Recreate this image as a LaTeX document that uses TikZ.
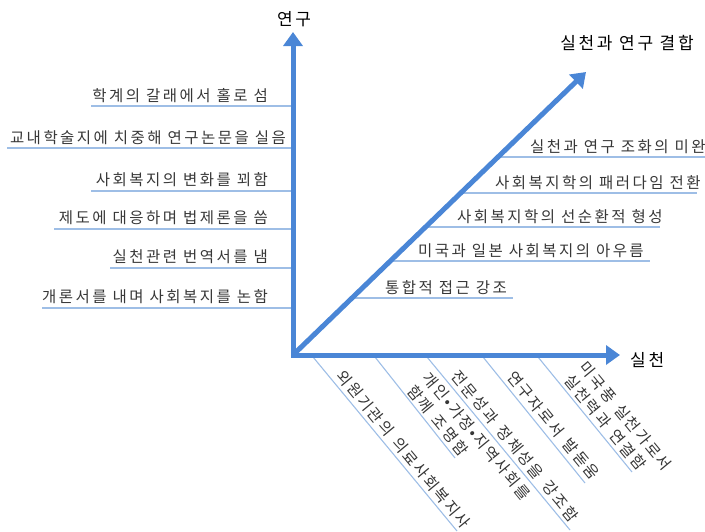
\documentclass[tikz,border=0pt]{standalone}
\usepackage{fontspec}
\setmainfont{Noto Sans CJK KR}
\newfontfamily\lblfont[LetterSpace=16]{Noto Sans CJK KR}
\newfontfamily\rotfont[LetterSpace=13,WordSpace=1.5]{Noto Sans CJK KR}
\usetikzlibrary{arrows.meta,calc}
\definecolor{axisblue}{RGB}{74,134,214}
\definecolor{thinblue}{RGB}{158,190,230}
\definecolor{lbltext}{RGB}{55,55,55}
\begin{document}
\begin{tikzpicture}[x=1pt,y=-1pt,
  axis/.style={draw=axisblue, line width=5pt, line join=miter},
  guide/.style={draw=thinblue, line width=1.1pt},
  lbl/.style={font=\lblfont\fontsize{15.5}{20}\selectfont, text=lbltext, inner sep=0pt},
  blbl/.style={font=\rotfont\fontsize{15.5}{20}\selectfont, text=lbltext, inner xsep=0pt, rotate=-50.5, anchor=south west, align=left, inner ysep=4pt},
  axlbl/.style={font=\lblfont\fontsize{17}{20}\selectfont, text=black, inner sep=0pt}]
\useasboundingbox (0,0) rectangle (705,531);
\tikzset{tip/.tip={Triangle[width=19pt,length=14pt]}}
% axes
\coordinate (O) at (293,355);
\coordinate (Ytip) at (293,32);
\coordinate (Xtip) at (620,355);
\coordinate (Dtip) at (586,72);
% left guides (research)
\coordinate (L1a) at (91,106);  \coordinate (L1b) at (293,106);
\coordinate (L2a) at (7,148);   \coordinate (L2b) at (293,148);
\coordinate (L3a) at (91,191);  \coordinate (L3b) at (293,191);
\coordinate (L4a) at (54,229);  \coordinate (L4b) at (293,229);
\coordinate (L5a) at (110,268); \coordinate (L5b) at (293,268);
\coordinate (L6a) at (42,308);  \coordinate (L6b) at (293,308);
\foreach \i in {1,...,6} {\draw[guide] (L\i a) -- (L\i b);}
\node[lbl, anchor=south east] (l1) at (268,103) {학계의 갈래에서 홀로 섬};
\node[lbl, anchor=south east] (l2) at (286,145) {교내학술지에 치중해 연구논문을 실음};
\node[lbl, anchor=south east] (l3) at (268,187) {사회복지의 변화를 꾀함};
\node[lbl, anchor=south east] (l4) at (268,225) {제도에 대응하며 법제론을 씀};
\node[lbl, anchor=south east] (l5) at (268,264) {실천관련 번역서를 냄};
\node[lbl, anchor=south east] (l6) at (268,304) {개론서를 내며 사회복지를 논함};
% right guides (combination)
\coordinate (R1a) at (498,157); \coordinate (R1b) at (705,157);
\coordinate (R2a) at (461,193); \coordinate (R2b) at (697,193);
\coordinate (R3a) at (425,227); \coordinate (R3b) at (660,227);
\coordinate (R4a) at (390,261); \coordinate (R4b) at (650,261);
\coordinate (R5a) at (352,298); \coordinate (R5b) at (513,298);
\foreach \i in {1,...,5} {\draw[guide] (R\i a) -- (R\i b);}
\node[lbl, anchor=south west] (r1) at (530,154) {실천과 연구 조화의 미완};
\node[lbl, anchor=south west] (r2) at (495,190) {사회복지학의 패러다임 전환};
\node[lbl, anchor=south west] (r3) at (457,224) {사회복지학의 선순환적 형성};
\node[lbl, anchor=south west] (r4) at (418,258) {미국과 일본 사회복지의 아우름};
\node[lbl, anchor=south west] (r5) at (385,295) {통합적 접근 강조};
% bottom guides (practice)
\coordinate (B1a) at (313,357); \coordinate (B1b) at (457,531);
\coordinate (B2a) at (375,357); \coordinate (B2b) at (455,458);
\coordinate (B3a) at (427,357); \coordinate (B3b) at (570,530);
\coordinate (B4a) at (483,357); \coordinate (B4b) at (585,483);
\coordinate (B5a) at (538,357); \coordinate (B5b) at (632,472);
\foreach \i in {1,...,5} {\draw[guide] (B\i a) -- (B\i b);}
\node[blbl] (b1) at ($(B1a)!29pt!(B1b)$) {외원기관의 의료사회복지사};
\node[blbl, inner ysep=2pt] (b2) at ($(B2a)!46pt!(B2b)$) {개인•가정•지역사회를\\함께 조명함};
\node[blbl] (b3) at ($(B3a)!30pt!(B3b)$) {전문성과 정체성을 강조함};
\node[blbl] (b4) at ($(B4a)!30pt!(B4b)$) {연구자로서 발돋움};
\node[blbl, inner ysep=3pt] (b5) at ($(B5a)!34pt!(B5b)$) {미국풍 실천가로서\\실천력과 연결함};
% axes drawn on top
\draw[axis, tip-tip] (Ytip) -- (O) -- (Xtip);
\draw[axis, -tip] (O) -- (Dtip);
\node[axlbl] (ylab) at (294,19) {연구};
\node[axlbl, anchor=west] (xlab) at (630,360) {실천};
\node[axlbl] (dlab) at (627,43) {실천과 연구 결합};
\end{tikzpicture}
\end{document}
